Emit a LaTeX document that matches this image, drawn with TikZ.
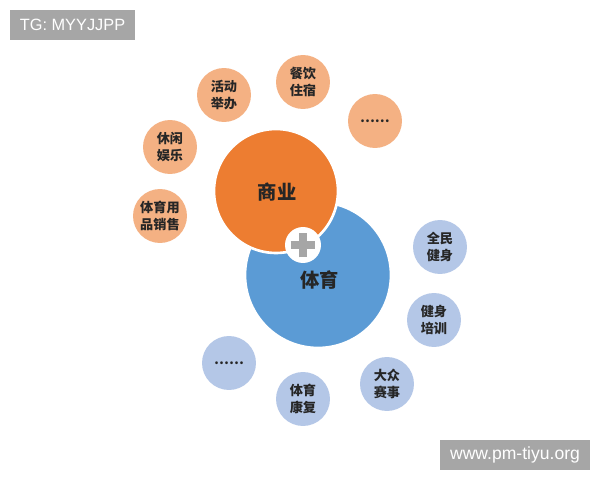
\documentclass[tikz,border=0pt]{standalone}
\usepackage{fontspec}
\setmainfont{Liberation Sans}
\newfontfamily\cjk{Noto Sans CJK SC}
\definecolor{bizorange}{HTML}{ED7D31}
\definecolor{sportblue}{HTML}{5B9BD5}
\definecolor{bizlight}{HTML}{F4B183}
\definecolor{sportlight}{HTML}{B4C7E7}
\definecolor{taggray}{HTML}{A6A6A6}
\tikzstyle{field}=[circle, draw=white, line width=1.5pt, inner sep=0pt, text=black!85, font=\cjk\bfseries\fontsize{11}{13}\selectfont]
\tikzstyle{bizitem}=[circle, fill=bizlight, minimum size=1.08cm, inner sep=0pt, align=center, text=black!85, font=\cjk\bfseries\fontsize{7.5}{9.6}\selectfont]
\tikzstyle{sportitem}=[bizitem, fill=sportlight]
\tikzstyle{tag}=[fill=taggray, text=white, inner sep=0pt, minimum height=0.6cm, font=\fontsize{10}{12}\selectfont]
\tikzstyle{plusbar}=[taggray, line width=5pt]

\begin{document}
\begin{tikzpicture}[x=0.02cm, y=-0.02cm]
    \useasboundingbox (0,0) rectangle (600,480);
    % watermarks
    \node[tag, minimum width=2.5cm, font=\fontsize{9.3}{11}\selectfont] (tg) at (72.5,25) {TG: MYYJJPP};
    \node[tag, minimum width=3cm] (site) at (515,455) {www.pm-tiyu.org};
    % the two fields
    \node[field, fill=sportblue, minimum size=2.92cm] (sport) at (318,275) {};
    \node[field, fill=bizorange, minimum size=2.48cm] (biz) at (276,191) {};
    \node[font=\cjk\bfseries\fontsize{11}{13}\selectfont, text=black!85] (sportlabel) at (320,280) {体育};
    \node[font=\cjk\bfseries\fontsize{11}{13}\selectfont, text=black!85] (bizlabel) at (277,192) {商业};
    \node[circle, fill=white, minimum size=0.72cm, inner sep=0pt] (plus) at (303,245) {};
    \draw[plusbar] ([xshift=-0.25cm]plus.center) -- ([xshift=0.25cm]plus.center);
    \draw[plusbar] ([yshift=-0.25cm]plus.center) -- ([yshift=0.25cm]plus.center);
    % business items
    \node[bizitem] (event) at (224,95) {活动\\举办};
    \node[bizitem] (food) at (303,82) {餐饮\\住宿};
    \node[bizitem] (bizmore) at (375,121) {……};
    \node[bizitem] (leisure) at (170,147) {休闲\\娱乐};
    \node[bizitem] (goods) at (160,216) {体育用\\品销售};
    % sport items
    \node[sportitem] (fitness) at (440,247) {全民\\健身};
    \node[sportitem] (training) at (434,320) {健身\\培训};
    \node[sportitem] (contest) at (387,384) {大众\\赛事};
    \node[sportitem] (rehab) at (303,399) {体育\\康复};
    \node[sportitem] (sportmore) at (229,363) {……};
\end{tikzpicture}
\end{document}
